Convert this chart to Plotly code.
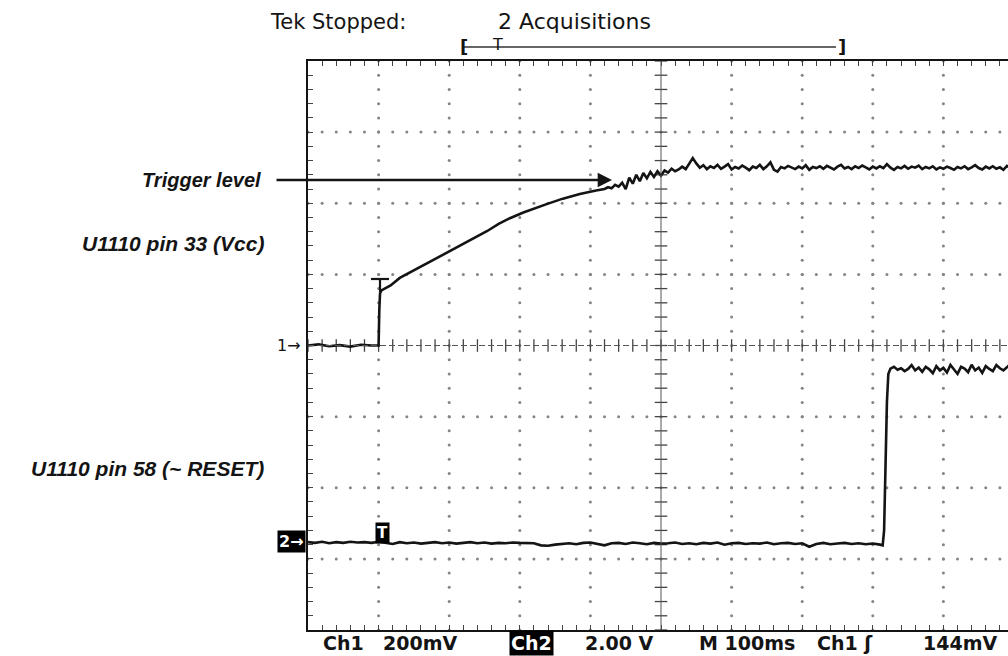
import plotly.graph_objects as go

# ---------------- acquisition data (time in ms relative to trigger) ----------------
# Channel 1: U1110 pin 33 (Vcc), 200 mV/div
ch1_rise_t = [-100, -85, -70, -55, -40, -25, -10, 0, 1, 2, 4, 8, 17, 30, 45, 60, 83,
              100, 115, 135, 154, 170, 186, 205, 224, 240, 261, 285, 308]
ch1_rise_v = [0.0, 0.003, -0.002, 0.001, -0.003, 0.002, 0.0, 0.0, 0.10, 0.146, 0.155,
              0.160, 0.169, 0.190, 0.206, 0.222, 0.245, 0.263, 0.280, 0.300, 0.322,
              0.342, 0.358, 0.374, 0.388, 0.399, 0.413, 0.426, 0.436]
# settled part, sampled every 5 ms from 320 ms
ch1_tail_start, ch1_tail_step = 320, 5
ch1_tail_v = [0.440, 0.445, 0.442, 0.452, 0.447, 0.458, 0.440, 0.472, 0.455, 0.480,
              0.462, 0.485, 0.470, 0.488, 0.474, 0.490, 0.478, 0.492, 0.486, 0.497,
              0.490, 0.495, 0.503, 0.496, 0.510, 0.527, 0.512, 0.500, 0.507, 0.496,
              0.504, 0.499, 0.508, 0.497, 0.503, 0.510, 0.495, 0.502, 0.498, 0.506,
              0.500, 0.493, 0.503, 0.499, 0.508, 0.496, 0.504, 0.515, 0.494, 0.489,
              0.502, 0.498, 0.505, 0.500, 0.496, 0.503, 0.498, 0.507, 0.494, 0.502,
              0.499, 0.504, 0.497, 0.505, 0.500, 0.495, 0.503, 0.508, 0.498, 0.502,
              0.496, 0.504, 0.499, 0.506, 0.501, 0.495, 0.503, 0.498, 0.504, 0.499,
              0.510, 0.500, 0.494, 0.502, 0.498, 0.505, 0.497, 0.503, 0.500, 0.506,
              0.496, 0.502, 0.498, 0.504, 0.495, 0.501, 0.497, 0.503, 0.499, 0.494,
              0.502, 0.498, 0.504, 0.496, 0.501, 0.507, 0.499, 0.495, 0.503, 0.498,
              0.504, 0.497, 0.501, 0.494, 0.505, 0.499, 0.502]

# Channel 2: U1110 pin 58 (~RESET), 2.00 V/div
ch2_low_start, ch2_low_step = -100, 10
ch2_low_v = [-0.03, -0.05, -0.02, -0.06, -0.03, -0.05, -0.02, -0.04, -0.03, -0.05,
             -0.02, -0.04, -0.08, -0.03, -0.06, -0.04, -0.07, -0.05, -0.03, -0.06,
             -0.04, -0.07, -0.05, -0.03, -0.06, -0.04, -0.07, -0.05, -0.06, -0.04,
             -0.05, -0.05, -0.06, -0.12, -0.13, -0.10, -0.08, -0.06, -0.09, -0.05,
             -0.04, -0.07, -0.12, -0.06, -0.05, -0.08, -0.04, -0.06, -0.09, -0.05,
             -0.07, -0.06, -0.04, -0.08, -0.06, -0.09, -0.05, -0.07, -0.04, -0.10,
             -0.06, -0.05, -0.08, -0.06, -0.07, -0.04, -0.09, -0.06, -0.05, -0.08,
             -0.06, -0.16, -0.08, -0.05, -0.09, -0.07, -0.05, -0.08, -0.06, -0.09,
             -0.07, -0.10]
ch2_edge_t = [714, 716, 718, 720, 722, 725]
ch2_edge_v = [-0.12, 0.3, 2.4, 3.9, 4.7, 4.85]
ch2_high_start, ch2_high_step = 730, 5
ch2_high_v = [4.90, 4.82, 4.86, 4.78, 4.84, 4.95, 4.80, 4.88, 4.76, 4.90, 4.83, 4.72,
              4.92, 4.80, 4.87, 4.74, 4.95, 4.82, 4.70, 4.90, 4.85, 4.75, 4.96, 4.80,
              4.88, 4.73, 4.92, 4.84, 4.78, 4.95, 4.86, 4.80, 4.90, 4.98, 4.85]

# scope settings
ch1_volts_per_div = 0.2
ch2_volts_per_div = 2.0
ms_per_div = 100
ch2_ground_div = 1.25          # ch2 ground marker, divisions above bottom edge

# assemble the sample series
ch1_t = ch1_rise_t + [ch1_tail_start + i * ch1_tail_step for i in range(len(ch1_tail_v))]
ch1_v = ch1_rise_v + ch1_tail_v
ch2_t = ([ch2_low_start + i * ch2_low_step for i in range(len(ch2_low_v))] + ch2_edge_t
         + [ch2_high_start + i * ch2_high_step for i in range(len(ch2_high_v))])
ch2_v = ch2_low_v + ch2_edge_v + ch2_high_v

# ---------------- screen geometry ----------------
W, H = 1008, 656
L, T, B = 308, 61, 26
plot_w, plot_h = W - L, H - T - B
div_px_x = 70.6
x_lo = -ms_per_div
x_hi = x_lo + plot_w / div_px_x * ms_per_div
y1_lo, y1_hi = -4 * ch1_volts_per_div, 4 * ch1_volts_per_div
y2_lo = -ch2_ground_div * ch2_volts_per_div
y2_hi = y2_lo + 8 * ch2_volts_per_div


def px(x):
    return (x - L) / plot_w


def py(y):
    return (H - B - y) / plot_h


INK = "#141414"
DOT = "#858585"

fig = go.Figure()

# graticule dots (1/5 division spacing along each grid line)
gx, gy = [], []
sub_t = ms_per_div / 5
sub_v = ch1_volts_per_div / 5
for k in range(1, 10):
    t = x_lo + k * ms_per_div
    if k == 5:
        continue
    for j in range(41):
        gx.append(t)
        gy.append(y1_lo + j * sub_v)
for k in range(1, 8):
    v = y1_lo + k * ch1_volts_per_div
    if k == 4:
        continue
    for j in range(int((x_hi - x_lo) / sub_t) + 1):
        gx.append(x_lo + j * sub_t)
        gy.append(v)
fig.add_trace(go.Scatter(x=gx, y=gy, mode="markers", hoverinfo="skip",
                         marker=dict(size=3, color=DOT), showlegend=False))

# centre cross with minor ticks
cx = x_lo + 5 * ms_per_div
fig.add_shape(type="line", x0=cx, x1=cx, y0=y1_lo, y1=y1_hi, line=dict(color="#555", width=1))
fig.add_shape(type="line", x0=x_lo, x1=x_hi, y0=0, y1=0,
              line=dict(color="#555", width=1, dash="6px,3px"))
tick_v = [y1_lo + j * sub_v for j in range(41)]
tick_t = [x_lo + j * sub_t for j in range(int((x_hi - x_lo) / sub_t) + 1)]
fig.add_trace(go.Scatter(x=[cx] * len(tick_v), y=tick_v, mode="markers", hoverinfo="skip",
                         marker=dict(symbol="line-ew-open", size=9, color="#444",
                                     line=dict(width=1.3, color="#444")), showlegend=False))
fig.add_trace(go.Scatter(x=tick_t, y=[0] * len(tick_t), mode="markers", hoverinfo="skip",
                         marker=dict(symbol="line-ns-open", size=9, color="#444",
                                     line=dict(width=1.3, color="#444")), showlegend=False))

# the two channel traces
fig.add_trace(go.Scatter(x=ch1_t, y=ch1_v, mode="lines", name="Ch1",
                         line=dict(color=INK, width=2.6), showlegend=False))
fig.add_trace(go.Scatter(x=ch2_t, y=ch2_v, mode="lines", name="Ch2", yaxis="y2",
                         line=dict(color=INK, width=2.6), showlegend=False))

# trigger-level glyph on ch1
fig.add_shape(type="line", xref="paper", yref="paper", x0=px(371), x1=px(389),
              y0=py(279), y1=py(279), line=dict(color=INK, width=2.2))
fig.add_shape(type="line", xref="paper", yref="paper", x0=px(380), x1=px(380),
              y0=py(279), y1=py(292), line=dict(color=INK, width=2.2))

# record-position bracket above the graticule
fig.add_shape(type="line", xref="paper", yref="paper", x0=px(462), x1=px(836),
              y0=py(47), y1=py(47), line=dict(color="#333", width=1.4))

ann = []


def text(x, y, s, size=19, family="DejaVu Sans", xanchor="left", color=INK,
         bold=False, italic=False, bg=None):
    if bold:
        s = "<b>" + s + "</b>"
    if italic:
        s = "<i>" + s + "</i>"
    d = dict(x=px(x), y=py(y), xref="paper", yref="paper", text=s, showarrow=False,
             xanchor=xanchor, yanchor="middle",
             font=dict(size=size, family=family, color=color))
    if bg:
        d.update(bgcolor=bg, borderpad=1)
    ann.append(d)


text(268, 22, "Tek Stopped:", size=21)
text(496, 22, "2 Acquisitions", size=22)
text(458, 46, "[", size=18, bold=True)
text(836, 46, "]", size=18, bold=True)
text(497, 44, "T", size=16, xanchor="center")

label_font = "Liberation Sans"
text(263, 180, "Trigger level", size=20, family=label_font, xanchor="right", bold=True, italic=True)
text(266, 243, "U1110 pin 33 (Vcc)", size=21, family=label_font, xanchor="right", bold=True, italic=True)
text(266, 468, "U1110 pin 58 (~ RESET)", size=21, family=label_font, xanchor="right", bold=True, italic=True)

text(303, 345, "1→", size=16, xanchor="right")
text(306, 541, "2→", size=16, xanchor="right", bold=True, color="white", bg="black")
text(382, 533, "T", size=15, xanchor="center", bold=True, color="white", bg="black")

text(321, 643, "Ch1", size=19, bold=True)
text(381, 643, "200mV", size=19, bold=True)
text(509, 643, "Ch2", size=19, bold=True, color="white", bg="black")
text(583, 643, "2.00 V", size=19, bold=True)
text(697, 643, "M 100ms", size=19, bold=True)
text(815, 643, "Ch1 ʃ", size=19, bold=True)
text(921, 643, "144mV", size=19, bold=True)

# trigger level pointer
ann.append(dict(x=px(612), y=py(180), xref="paper", yref="paper", ax=-337, ay=0,
                text="", showarrow=True, arrowhead=2, arrowsize=1.1, arrowwidth=2.6,
                arrowcolor=INK, standoff=0))

fig.update_layout(
    width=W, height=H, autosize=False,
    margin=dict(l=L, r=0, t=T, b=B),
    paper_bgcolor="white", plot_bgcolor="white",
    annotations=ann,
    xaxis=dict(range=[x_lo, x_hi], showgrid=False, zeroline=False, showticklabels=False,
               showline=True, linecolor=INK, linewidth=2, mirror="ticks",
               ticks="inside", tick0=x_lo, dtick=sub_t, ticklen=5, tickcolor="#444",
               tickwidth=1.2),
    yaxis=dict(range=[y1_lo, y1_hi], showgrid=False, zeroline=False, showticklabels=False,
               showline=True, linecolor=INK, linewidth=2, mirror=False,
               ticks="inside", tick0=y1_lo, dtick=sub_v, ticklen=5, tickcolor="#444",
               tickwidth=1.2),
    yaxis2=dict(range=[y2_lo, y2_hi], overlaying="y", visible=False),
)

fig.write_html("out.html")
